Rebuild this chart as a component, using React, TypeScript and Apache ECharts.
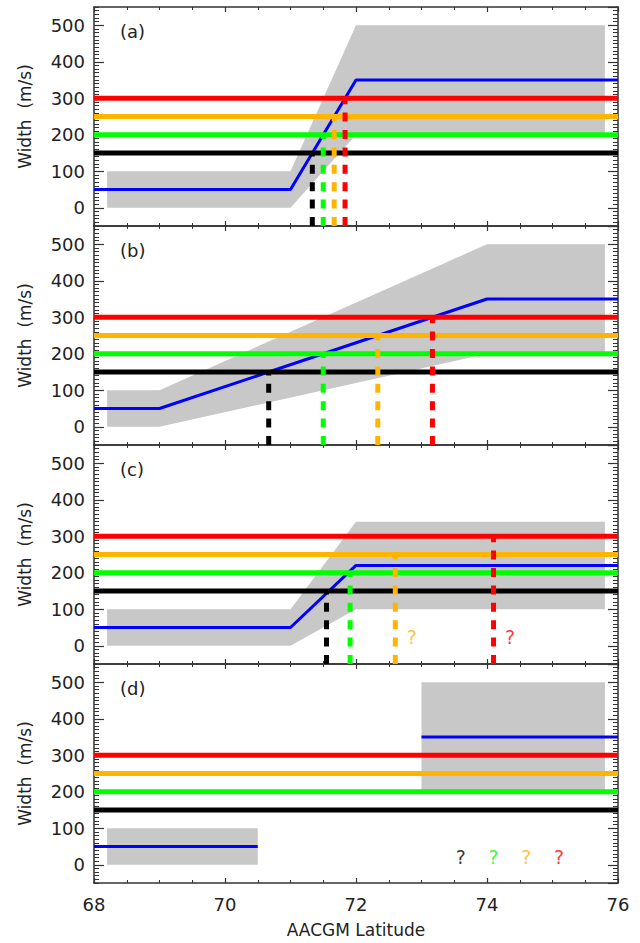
import React, { useEffect, useRef } from 'react';
import * as echarts from 'echarts';

// ---------- data ----------
const latMin = 68;
const latMax = 76;
const widthMin = -50;
const widthMax = 550;

const thresholdValues = [150, 200, 250, 300];
const panelLabels = ['(a)', '(b)', '(c)', '(d)'];
const xAxisTitle = 'AACGM Latitude';
const yAxisTitle = 'Width  (m/s)';

// panel (a)
const aBlueLat = [68, 71, 72, 76];
const aBlueWidth = [50, 50, 350, 350];
const aBandLat = [68.2, 71, 72, 75.8];
const aBandLow = [0, 0, 200, 200];
const aBandHigh = [100, 100, 500, 500];
const aCrossLat = [71.333, 71.5, 71.667, 71.833];

// panel (b)
const bBlueLat = [68, 69, 74, 76];
const bBlueWidth = [50, 50, 350, 350];
const bBandLat = [68.2, 69, 74, 75.8];
const bBandLow = [0, 0, 200, 200];
const bBandHigh = [100, 100, 500, 500];
const bCrossLat = [70.667, 71.5, 72.333, 73.167];

// panel (c)
const cBlueLat = [68, 71, 72, 76];
const cBlueWidth = [50, 50, 220, 220];
const cBandLat = [68.2, 71, 72, 75.8];
const cBandLow = [0, 0, 100, 100];
const cBandHigh = [100, 100, 340, 340];
const cCrossLat = [71.55, 71.91, 72.6, 74.1];
const cQuestionLat = [72.85, 74.35];
const cQuestionWidth = [25, 25];
const cQuestionColorIndex = [2, 3];

// panel (d)
const dBlue1Lat = [68, 70.5];
const dBlue1Width = [50, 50];
const dBlue2Lat = [73, 76];
const dBlue2Width = [350, 350];
const dBand1Lat = [68.2, 70.5];
const dBand1Low = [0, 0];
const dBand1High = [100, 100];
const dBand2Lat = [73, 75.8];
const dBand2Low = [200, 200];
const dBand2High = [500, 500];
const dQuestionLat = [73.6, 74.1, 74.6, 75.1];
const dQuestionWidth = [20, 20, 20, 20];
const dQuestionColorIndex = [0, 1, 2, 3];

// ---------- styles ----------
const thresholdColors = ['#000000', '#00ff00', '#ffb400', '#ff0000'];
const blueColor = '#0000ff';
const bandColor = '#c8c8c8';
const axisColor = '#333333';
const textColor = '#222222';
const fontFamily = 'DejaVu Sans';

type Band = { lat: number[]; low: number[]; high: number[] };
type Panel = {
  blue: { lat: number[]; w: number[] }[];
  bands: Band[];
  cross: number[];
  qLat: number[];
  qW: number[];
  qC: number[];
};

const panels: Panel[] = [
  {
    blue: [{ lat: aBlueLat, w: aBlueWidth }],
    bands: [{ lat: aBandLat, low: aBandLow, high: aBandHigh }],
    cross: aCrossLat, qLat: [], qW: [], qC: [],
  },
  {
    blue: [{ lat: bBlueLat, w: bBlueWidth }],
    bands: [{ lat: bBandLat, low: bBandLow, high: bBandHigh }],
    cross: bCrossLat, qLat: [], qW: [], qC: [],
  },
  {
    blue: [{ lat: cBlueLat, w: cBlueWidth }],
    bands: [{ lat: cBandLat, low: cBandLow, high: cBandHigh }],
    cross: cCrossLat, qLat: cQuestionLat, qW: cQuestionWidth, qC: cQuestionColorIndex,
  },
  {
    blue: [{ lat: dBlue1Lat, w: dBlue1Width }, { lat: dBlue2Lat, w: dBlue2Width }],
    bands: [
      { lat: dBand1Lat, low: dBand1Low, high: dBand1High },
      { lat: dBand2Lat, low: dBand2Low, high: dBand2High },
    ],
    cross: [], qLat: dQuestionLat, qW: dQuestionWidth, qC: dQuestionColorIndex,
  },
];

const GRID_LEFT = 94;
const GRID_WIDTH = 524;
const GRID_TOP = 7;
const GRID_HEIGHT = 219;

function buildOption() {
  const grid: any[] = [];
  const xAxis: any[] = [];
  const yAxis: any[] = [];
  const series: any[] = [];
  const graphic: any[] = [];

  panels.forEach((p, i) => {
    const top = GRID_TOP + i * GRID_HEIGHT;
    grid.push({ left: GRID_LEFT, top, width: GRID_WIDTH, height: GRID_HEIGHT, containLabel: false });

    const xBase = (pos: string, labels: boolean) => ({
      type: 'value',
      gridIndex: i,
      position: pos,
      min: latMin,
      max: latMax,
      interval: 2,
      axisLine: { show: true, onZero: false, lineStyle: { color: axisColor, width: 1.5 } },
      axisTick: { show: true, inside: true, length: 5, lineStyle: { color: axisColor, width: 1.2 } },
      minorTick: { show: true, splitNumber: 4, length: 3, lineStyle: { color: axisColor, width: 1 } },
      splitLine: { show: false },
      axisLabel: {
        show: labels,
        fontSize: 18,
        color: textColor,
        fontFamily,
        margin: 12,
      },
      ...(labels
        ? {
            name: xAxisTitle,
            nameLocation: 'middle',
            nameGap: 38,
            nameTextStyle: { fontSize: 17, color: textColor, fontFamily },
          }
        : {}),
    });
    xAxis.push(xBase('bottom', i === panels.length - 1));
    xAxis.push(xBase('top', false));

    const yMajor = (pos: string, labels: boolean) => ({
      type: 'value',
      gridIndex: i,
      position: pos,
      min: widthMin,
      max: widthMax,
      splitNumber: 6,
      axisLine: { show: true, onZero: false, lineStyle: { color: axisColor, width: 1.5 } },
      axisTick: { show: true, inside: true, length: 10, lineStyle: { color: axisColor, width: 1.2 } },
      splitLine: { show: false },
      axisLabel: {
        show: labels,
        fontSize: 18,
        color: textColor,
        fontFamily,
        margin: 9,
        showMinLabel: false,
        showMaxLabel: false,
        formatter: (v: number) => (v % 100 === 0 && v >= 0 && v <= 500 ? String(v) : ''),
      },
      ...(labels
        ? {
            name: yAxisTitle,
            nameLocation: 'middle',
            nameGap: 61,
            nameRotate: 90,
            nameTextStyle: { fontSize: 17, color: textColor, fontFamily },
          }
        : {}),
    });
    const yMinor = (pos: string) => ({
      type: 'value',
      gridIndex: i,
      position: pos,
      min: widthMin,
      max: widthMax,
      interval: 10,
      axisLine: { show: false },
      axisTick: { show: true, inside: true, length: 5, lineStyle: { color: axisColor, width: 1 } },
      splitLine: { show: false },
      axisLabel: { show: false },
    });
    yAxis.push(yMajor('left', true));
    yAxis.push(yMajor('right', false));
    yAxis.push(yMinor('left'));
    yAxis.push(yMinor('right'));

    const xi = i * 2;
    const yi = i * 4;

    // gray uncertainty bands
    series.push({
      type: 'custom',
      xAxisIndex: xi,
      yAxisIndex: yi,
      silent: true,
      z: 1,
      data: p.bands.map((b) => [b.lat[0], b.low[0]]),
      encode: { x: 0, y: 1 },
      renderItem: (params: any, api: any) => {
        const b = p.bands[params.dataIndex];
        const upper = b.lat.map((x, j) => api.coord([x, b.high[j]]));
        const lower = b.lat.map((x, j) => api.coord([x, b.low[j]])).reverse();
        return {
          type: 'polygon',
          shape: { points: upper.concat(lower) },
          style: { fill: bandColor, stroke: 'none' },
        };
      },
    });

    // blue model lines
    p.blue.forEach((seg) => {
      series.push({
        type: 'line',
        xAxisIndex: xi,
        yAxisIndex: yi,
        silent: true,
        z: 2,
        symbol: 'none',
        data: seg.lat.map((x, j) => [x, seg.w[j]]),
        lineStyle: { color: blueColor, width: 3 },
      });
    });

    // horizontal thresholds
    thresholdValues.forEach((v, k) => {
      series.push({
        type: 'line',
        xAxisIndex: xi,
        yAxisIndex: yi,
        silent: true,
        z: 3,
        symbol: 'none',
        data: [
          [latMin, v],
          [latMax, v],
        ],
        lineStyle: { color: thresholdColors[k], width: 5 },
      });
    });

    // dashed crossing lines
    p.cross.forEach((x, k) => {
      series.push({
        type: 'line',
        xAxisIndex: xi,
        yAxisIndex: yi,
        silent: true,
        z: 4,
        symbol: 'none',
        data: [
          [x, widthMin],
          [x, thresholdValues[k]],
        ],
        lineStyle: { color: thresholdColors[k], width: 5, type: [9, 8.4], cap: 'butt' },
      });
    });

    // question marks
    p.qLat.forEach((x, k) => {
      series.push({
        type: 'scatter',
        xAxisIndex: xi,
        yAxisIndex: yi,
        silent: true,
        z: 5,
        symbolSize: 1,
        itemStyle: { color: 'rgba(0,0,0,0)' },
        data: [[x, p.qW[k]]],
        label: {
          show: true,
          position: 'inside',
          formatter: '?',
          fontSize: 19,
          fontFamily,
          color: thresholdColors[p.qC[k]],
        },
      });
    });

    graphic.push({
      type: 'text',
      left: 120,
      top: top + 15,
      silent: true,
      style: { text: panelLabels[i], fontSize: 18, fontFamily, fill: textColor },
    });
  });

  return { animation: false, backgroundColor: '#ffffff', grid, xAxis, yAxis, series, graphic };
}

export default function App() {
  const ref = useRef<HTMLDivElement>(null);
  useEffect(() => {
    if (!ref.current) return;
    const chart = echarts.init(ref.current, undefined, { renderer: 'svg' });
    chart.setOption(buildOption() as any);
    return () => chart.dispose();
  }, []);
  return (
    <div
      ref={ref}
      style={{ position: 'fixed', left: 0, top: 0, width: 640, height: 943, background: '#fff' }}
    />
  );
}
